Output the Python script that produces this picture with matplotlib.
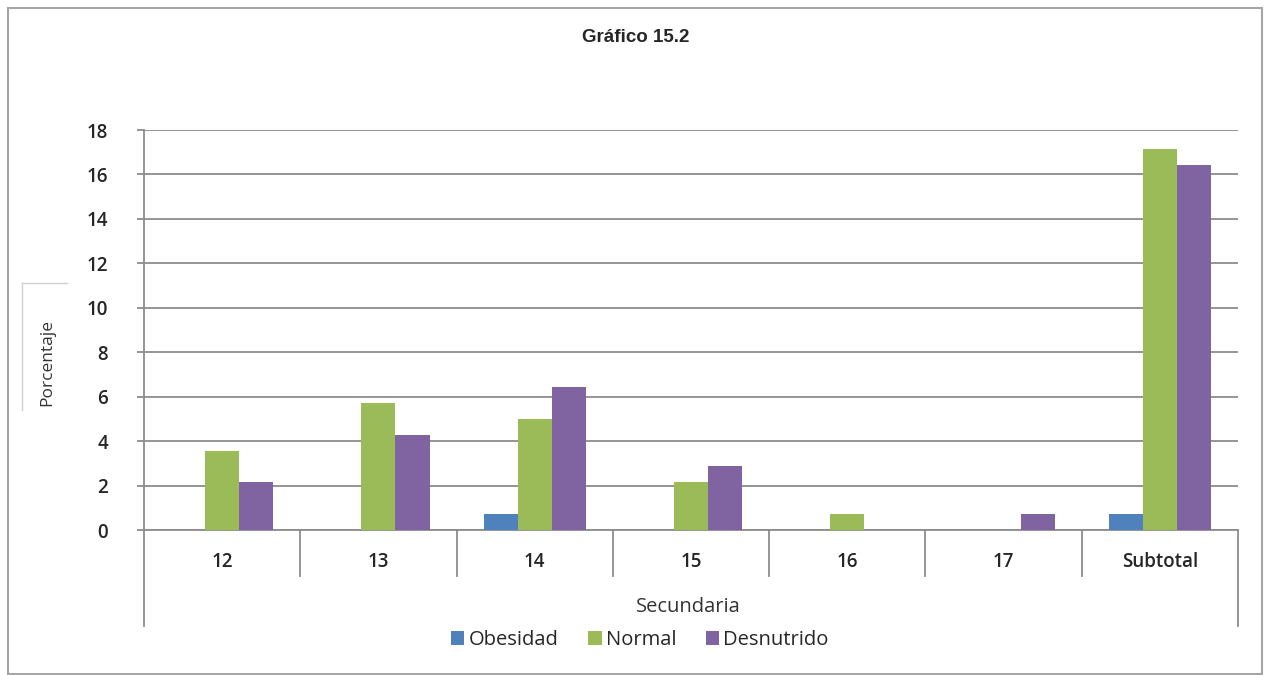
import matplotlib
matplotlib.use("Agg")
import matplotlib.pyplot as plt
import numpy as np
from matplotlib.lines import Line2D
from matplotlib.patches import Rectangle

categories = ["12", "13", "14", "15", "16", "17", "Subtotal"]
series_names = ["Obesidad", "Normal", "Desnutrido"]
obesidad = [0, 0, 0.71, 0, 0, 0, 0.71]
normal = [3.57, 5.71, 5.0, 2.14, 0.71, 0, 17.14]
desnutrido = [2.14, 4.29, 6.43, 2.86, 0, 0.71, 16.43]
yticks = [0, 2, 4, 6, 8, 10, 12, 14, 16, 18]

COLORS = ["#4F81BD", "#9BBB59", "#8064A2"]
GRID = "#8C8C8C"
TEXT = "#262626"

plt.rcParams["font.family"] = ["Open Sans", "DejaVu Sans"]

W, H = 1269, 675
fig = plt.figure(figsize=(W / 100, H / 100), dpi=100)
fig.patch.set_facecolor("white")

# outer chart border
fig.add_artist(Rectangle((8 / W, 0.002), (1262 - 8) / W, (675 - 8 - 1) / H,
                         transform=fig.transFigure, fill=False,
                         edgecolor="#A6A6A6", linewidth=1.5))

ax = fig.add_axes([144 / W, 145 / H, (1238 - 144) / W, 400 / H])
x = np.arange(len(categories))
bw = 0.218
for i, (vals, name) in enumerate(zip([obesidad, normal, desnutrido], series_names)):
    ax.bar(x + (i - 1) * bw, vals, width=bw, color=COLORS[i], label=name, zorder=3)

ax.set_xlim(-0.5, len(categories) - 0.5)
ax.set_ylim(0, 18)
ax.set_yticks(yticks)
ax.yaxis.grid(True, color=GRID, linewidth=1.3, zorder=0)
ax.tick_params(axis="y", length=5, width=1.3, color=GRID, labelsize=13.5,
               labelcolor=TEXT, pad=21)
ax.set_yticklabels([str(t) for t in yticks], fontweight="semibold")
ax.set_xticks(x)
ax.set_xticklabels(categories, fontweight="semibold", fontsize=13.5, color=TEXT)
ax.tick_params(axis="x", length=0, pad=16)

for s in ["top", "right"]:
    ax.spines[s].set_visible(False)
ax.spines["left"].set_color(GRID)
ax.spines["left"].set_linewidth(1.3)
ax.spines["bottom"].set_color(GRID)
ax.spines["bottom"].set_linewidth(1.3)

# category dividers below the axis, multi-level style
ylow_div = -2.05
ylow_outer = -4.3
for b in np.arange(0.5, len(categories) - 1, 1.0):
    ax.add_line(Line2D([b, b], [0, ylow_div], color=GRID, linewidth=1.3, clip_on=False))
ax.add_line(Line2D([-0.5, -0.5], [0, ylow_outer], color=GRID, linewidth=1.3, clip_on=False))
ax.add_line(Line2D([len(categories) - 0.5] * 2, [0, ylow_outer], color=GRID,
                   linewidth=1.3, clip_on=False))

fig.text(688 / W, 1 - 607 / H, "Secundaria", ha="center", va="center",
         fontsize=14.5, color="#333333")
fig.text(636 / W, 1 - 37 / H, "Gráfico 15.2", ha="center", va="center",
         fontsize=13.5, fontweight="bold", color=TEXT, family=["Liberation Sans", "DejaVu Sans"])

# y label with its faint box edges
fig.text(47 / W, 1 - 363 / H, "Porcentaje", rotation=90, ha="center", va="center",
         fontsize=12.5, color="#333333")
fig.add_artist(Line2D([22 / W, 22 / W], [1 - 283 / H, 1 - 410 / H],
                      transform=fig.transFigure, color="#D0D0D0", linewidth=1))
fig.add_artist(Line2D([22 / W, 67 / W], [1 - 283 / H, 1 - 283 / H],
                      transform=fig.transFigure, color="#D0D0D0", linewidth=1))

leg = fig.legend(loc="center", bbox_to_anchor=(640 / W, 1 - 640 / H), ncol=3,
                 frameon=False, fontsize=14.5, handlelength=0.65, handleheight=0.65,
                 handletextpad=0.2, columnspacing=1.5)
for t in leg.get_texts():
    t.set_color(TEXT)

fig.savefig("out.png", dpi=100, facecolor="white")
